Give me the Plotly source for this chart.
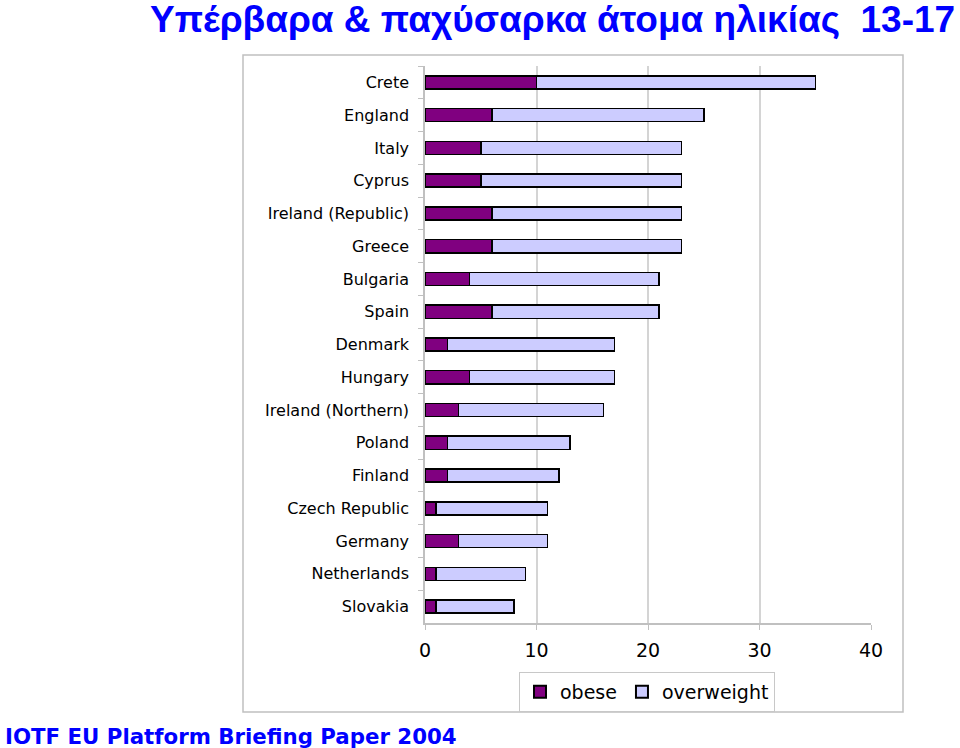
import plotly.graph_objects as go

countries = ["Crete", "England", "Italy", "Cyprus", "Ireland (Republic)", "Greece",
             "Bulgaria", "Spain", "Denmark", "Hungary", "Ireland (Northern)", "Poland",
             "Finland", "Czech Republic", "Germany", "Netherlands", "Slovakia"]
obese = [10, 6, 5, 5, 6, 6, 4, 6, 2, 4, 3, 2, 2, 1, 3, 1, 1]
overweight = [25, 19, 18, 18, 17, 17, 17, 15, 15, 13, 13, 11, 10, 10, 8, 8, 7]
x_ticks = [0, 10, 20, 30, 40]

W, H = 960, 748
L, R, T, B = 425, 871, 66, 623

def px(x):
    return (x - L) / (R - L)

def py(y):
    return (B - y) / (B - T)

fig = go.Figure()
fig.add_trace(go.Bar(y=countries, x=obese, name="obese", orientation="h",
                     marker=dict(color="#800080", line=dict(color="#000000", width=1.5))))
fig.add_trace(go.Bar(y=countries, x=overweight, name="overweight", orientation="h",
                     marker=dict(color="#ccccff", line=dict(color="#000000", width=1.5))))

fig.update_layout(
    width=W, height=H,
    margin=dict(l=L, r=W - R, t=T, b=H - B),
    barmode="stack", bargap=0.6,
    paper_bgcolor="white", plot_bgcolor="white",
    font=dict(family="DejaVu Sans, Liberation Sans, sans-serif", color="#000000"),
    showlegend=True,
    legend=dict(orientation="h", x=px(647), y=py(692), xanchor="center", yanchor="middle",
                bordercolor="#c8c8c8", borderwidth=1, font=dict(size=19),
                itemsizing="constant", traceorder="normal", tracegroupgap=0,
                itemwidth=30),
)
fig.update_xaxes(range=[0, 40], tickvals=x_ticks, showgrid=True, gridcolor="#d4d4d4",
                 gridwidth=1.5, showline=True, linecolor="#c0c0c0", linewidth=1.5,
                 ticks="outside", ticklen=5, tickcolor="#c0c0c0", zeroline=False,
                 tickfont=dict(size=19), ticklabelstandoff=4)
fig.update_yaxes(autorange="reversed", showline=True, linecolor="#c0c0c0", linewidth=1.5,
                 ticks="outside", ticklen=5, tickcolor="#c0c0c0", tickson="boundaries",
                 tickfont=dict(size=16), ticklabelstandoff=11, showgrid=False)

# outer frame
fig.add_shape(type="rect", xref="paper", yref="paper",
              x0=px(243), x1=px(903), y0=py(712), y1=py(55),
              line=dict(color="#c0c0c0", width=1.5), fillcolor="rgba(0,0,0,0)", layer="below")

fig.add_annotation(text="<b>Υπέρβαρα & παχύσαρκα άτομα ηλικίας  13-17</b>",
                   xref="paper", yref="paper", x=px(957), y=py(19),
                   xanchor="right", yanchor="middle", showarrow=False,
                   font=dict(family="Liberation Sans, Arial, sans-serif",
                             size=37, color="#0000ff"))
fig.add_annotation(text="<b>IOTF EU Platform Briefing Paper 2004</b>",
                   xref="paper", yref="paper", x=px(3), y=py(736),
                   xanchor="left", yanchor="middle", showarrow=False,
                   font=dict(family="DejaVu Sans, sans-serif", size=21.3, color="#0000ff"))

fig.write_html("out.html")
